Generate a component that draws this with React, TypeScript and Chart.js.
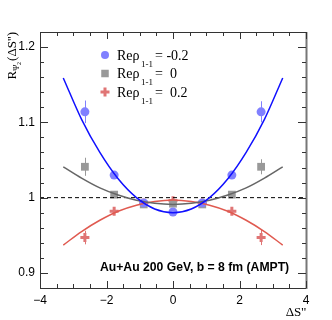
import React, { useEffect, useRef } from 'react';
import { Chart, registerables } from 'chart.js';

Chart.register(...registerables);

// ---- data ----
const xPositions = [-2.65, -1.77, -0.88, 0, 0.88, 1.77, 2.65];
const blueValues = [1.114, 1.030, 0.993, 0.981, 0.993, 1.030, 1.114];
const blueErrors = [0.015, 0.004, 0.003, 0.003, 0.003, 0.004, 0.014];
const grayValues = [1.041, 1.004, 0.991, 0.992, 0.991, 1.004, 1.041];
const grayErrors = [0.012, 0.004, 0.003, 0.003, 0.003, 0.004, 0.010];
const redValues = [0.947, 0.982, 0.993, 0.996, 0.993, 0.982, 0.947];
const redErrors = [0.009, 0.004, 0.003, 0.003, 0.003, 0.004, 0.010];

const fitX = [-3.3, -2.75, -2.2, -1.65, -1.1, -0.55, 0, 0.55, 1.1, 1.65, 2.2, 2.75, 3.3];
const blueFit = [1.159, 1.104, 1.060, 1.025, 1.000, 0.985, 0.980, 0.985, 1.000, 1.025, 1.060, 1.104, 1.159];
const grayFit = [1.041, 1.026, 1.013, 1.0035, 0.9966, 0.9924, 0.991, 0.9924, 0.9966, 1.0035, 1.013, 1.026, 1.041];
const redFit = [0.937, 0.955, 0.970, 0.982, 0.990, 0.995, 0.997, 0.995, 0.990, 0.982, 0.970, 0.955, 0.937];

const refLineX = [-4, 4];
const refLineY = [1, 1];

const xTickValues = [-4, -2, 0, 2, 4];
const yTickValues = [0.9, 1.0, 1.1, 1.2];
const legendValues = ['= -0.2', '=  0', '=  0.2'];
const annotationText = 'Au+Au 200 GeV, b = 8 fm (AMPT)';

// ---- styles ----
const blueColor = '#8080ff';
const blueLine = '#1010ff';
const grayColor = '#999999';
const grayLine = '#666666';
const redColor = '#e07575';
const redLine = '#e05a50';
const SERIF = '"Liberation Serif", "Times New Roman", serif';
const SANS = '"Liberation Sans", Arial, sans-serif';

const pts = (xs: number[], ys: number[]) => xs.map((x, i) => ({ x, y: ys[i] }));

function drawMarker(ctx: CanvasRenderingContext2D, kind: string, cx: number, cy: number) {
  ctx.save();
  if (kind === 'circle') {
    ctx.fillStyle = blueColor;
    ctx.beginPath();
    ctx.arc(cx, cy, 4, 0, Math.PI * 2);
    ctx.fill();
  } else if (kind === 'rect') {
    ctx.fillStyle = grayColor;
    ctx.fillRect(cx - 3.75, cy - 3.75, 7.5, 7.5);
  } else {
    ctx.strokeStyle = redColor;
    ctx.lineWidth = 3;
    ctx.beginPath();
    ctx.moveTo(cx - 4.5, cy);
    ctx.lineTo(cx + 4.5, cy);
    ctx.moveTo(cx, cy - 4.5);
    ctx.lineTo(cx, cy + 4.5);
    ctx.stroke();
  }
  ctx.restore();
}

const decorPlugin = {
  id: 'decor',
  beforeDatasetsDraw(chart: any) {
    const { ctx, scales } = chart;
    const xs = scales.x;
    const ys = scales.y;
    const sets: [number[], number[], string][] = [
      [blueValues, blueErrors, blueColor],
      [grayValues, grayErrors, grayColor],
      [redValues, redErrors, redColor],
    ];
    ctx.save();
    ctx.lineWidth = 1;
    sets.forEach(([vals, errs, col]) => {
      ctx.strokeStyle = col;
      vals.forEach((v, i) => {
        const px = Math.round(xs.getPixelForValue(xPositions[i])) + 0.5;
        ctx.beginPath();
        ctx.moveTo(px, ys.getPixelForValue(v + errs[i]));
        ctx.lineTo(px, ys.getPixelForValue(v - errs[i]));
        ctx.stroke();
      });
    });
    ctx.restore();
  },
  afterDraw(chart: any) {
    const { ctx, chartArea, scales } = chart;
    const xs = scales.x;
    const ys = scales.y;
    const { left, right, top, bottom } = chartArea;
    ctx.save();
    // frame
    ctx.strokeStyle = '#333';
    ctx.lineWidth = 1;
    ctx.beginPath();
    ctx.moveTo(left + 0.5, top + 0.5);
    ctx.lineTo(right, top + 0.5);
    ctx.moveTo(left + 0.5, top);
    ctx.lineTo(left + 0.5, bottom + 0.5);
    ctx.lineTo(right, bottom + 0.5);
    ctx.stroke();
    ctx.strokeStyle = '#777';
    ctx.lineWidth = 2;
    ctx.beginPath();
    ctx.moveTo(right + 0.5, top);
    ctx.lineTo(right + 0.5, bottom + 1);
    ctx.stroke();
    // ticks
    ctx.strokeStyle = '#333';
    ctx.lineWidth = 1;
    ctx.beginPath();
    for (let k = -8; k <= 8; k++) {
      const v = k * 0.5;
      const len = k % 4 === 0 ? 7 : 4;
      const px = Math.round(xs.getPixelForValue(v)) + 0.5;
      ctx.moveTo(px, bottom);
      ctx.lineTo(px, bottom - len);
      ctx.moveTo(px, top);
      ctx.lineTo(px, top + len);
    }
    for (let k = 44; k <= 61; k++) {
      const v = k * 0.02;
      const len = k % 5 === 0 ? 8 : 4;
      const py = Math.round(ys.getPixelForValue(v)) + 0.5;
      ctx.moveTo(left, py);
      ctx.lineTo(left + len, py);
      ctx.moveTo(right, py);
      ctx.lineTo(right - len, py);
    }
    ctx.stroke();

    // legend
    const kinds = ['circle', 'rect', 'cross'];
    const rowY = [55, 73.5, 92];
    kinds.forEach((kind, i) => {
      drawMarker(ctx, kind, 105, rowY[i]);
      const base = rowY[i] + 4.5;
      ctx.fillStyle = '#000';
      ctx.textAlign = 'left';
      ctx.textBaseline = 'alphabetic';
      ctx.font = '14px ' + SERIF;
      ctx.fillText('Re\u03c1', 117, base);
      const w = ctx.measureText('Re\u03c1').width;
      ctx.font = '9px ' + SERIF;
      ctx.fillText('1-1', 117 + w + 1.5, base + 7);
      ctx.font = '14px ' + SERIF;
      ctx.fillText(legendValues[i], 155, base);
    });

    // annotation
    ctx.font = 'bold 12.2px ' + SANS;
    ctx.fillStyle = '#000';
    ctx.fillText(annotationText, 100, 271);

    // x title
    ctx.font = '13px ' + SERIF;
    ctx.textAlign = 'right';
    ctx.fillText("\u0394S''", 306, 316);

    // y title (rotated)
    ctx.save();
    ctx.translate(15.5, 32);
    ctx.rotate(-Math.PI / 2);
    ctx.textAlign = 'left';
    const parts: [string, number, number][] = [
      ['R', 13, 0],
      ['\u03a8', 8, 3],
      ['2', 6, 5],
      ['', 13, 0],
      ["(\u0394S'')", 13, 0],
    ];
    let total = 0;
    parts.forEach(([t, s]) => {
      ctx.font = s + 'px ' + SERIF;
      total += ctx.measureText(t).width + (t === '' ? 1 : 0);
    });
    let xx = -total;
    parts.forEach(([t, s, dy]) => {
      ctx.font = s + 'px ' + SERIF;
      ctx.fillText(t, xx, dy);
      xx += ctx.measureText(t).width + (t === '' ? 1 : 0);
    });
    ctx.restore();

    ctx.restore();
  },
};

export default function App() {
  const ref = useRef<HTMLCanvasElement | null>(null);

  useEffect(() => {
    if (!ref.current) return;
    const chart = new Chart(ref.current, {
      type: 'scatter',
      data: {
        datasets: [
          {
            type: 'line',
            data: pts(fitX, blueFit),
            borderColor: blueLine,
            borderWidth: 1.5,
            pointRadius: 0,
            fill: false,
            cubicInterpolationMode: 'monotone',
            order: 1,
          } as any,
          {
            type: 'line',
            data: pts(fitX, grayFit),
            borderColor: grayLine,
            borderWidth: 1.5,
            pointRadius: 0,
            fill: false,
            cubicInterpolationMode: 'monotone',
            order: 1,
          } as any,
          {
            type: 'line',
            data: pts(fitX, redFit),
            borderColor: redLine,
            borderWidth: 1.5,
            pointRadius: 0,
            fill: false,
            cubicInterpolationMode: 'monotone',
            order: 1,
          } as any,
          {
            type: 'line',
            data: pts(refLineX, refLineY),
            borderColor: '#000',
            borderWidth: 1,
            borderDash: [4, 3],
            pointRadius: 0,
            fill: false,
            order: 2,
          } as any,
          {
            data: pts(xPositions, blueValues),
            pointStyle: 'circle',
            pointRadius: 4.5,
            backgroundColor: blueColor,
            borderColor: blueColor,
            borderWidth: 0,
            order: 3,
          },
          {
            data: pts(xPositions, grayValues),
            pointStyle: 'rect',
            pointRadius: 5.5,
            backgroundColor: grayColor,
            borderColor: grayColor,
            borderWidth: 0,
            order: 3,
          },
          {
            data: pts(xPositions, redValues),
            pointStyle: 'cross',
            pointRadius: 4.5,
            backgroundColor: redColor,
            borderColor: redColor,
            borderWidth: 3,
            order: 3,
          },
        ],
      },
      options: {
        animation: false,
        responsive: false,
        devicePixelRatio: 1,
        events: [],
        layout: { padding: { top: 32, right: 26, left: 0, bottom: 0 } },
        plugins: {
          legend: { display: false },
          tooltip: { enabled: false },
        },
        scales: {
          x: {
            type: 'linear',
            min: -4,
            max: 4,
            grid: { display: false, drawTicks: false },
            border: { display: false },
            afterBuildTicks: (s: any) => {
              s.ticks = xTickValues.map((v) => ({ value: v }));
            },
            afterFit: (s: any) => {
              s.height = 32;
            },
            ticks: {
              padding: 5,
              color: '#000',
              font: { family: SANS, size: 12 },
              maxRotation: 0,
              autoSkip: false,
              callback: (v: any) => (Number(v) < 0 ? '\u2212' + Math.abs(Number(v)) : String(v)),
            },
          },
          y: {
            type: 'linear',
            min: 0.88,
            max: 1.22,
            grid: { display: false, drawTicks: false },
            border: { display: false },
            afterBuildTicks: (s: any) => {
              s.ticks = yTickValues.map((v) => ({ value: v }));
            },
            afterFit: (s: any) => {
              s.width = 40;
            },
            ticks: {
              padding: 5,
              color: '#000',
              font: { family: SANS, size: 12 },
              autoSkip: false,
              callback: (v: any) => String(Number(Number(v).toFixed(2))),
            },
          },
        },
      },
      plugins: [decorPlugin],
    } as any);
    return () => chart.destroy();
  }, []);

  return (
    <div style={{ position: 'absolute', left: 0, top: 0, width: 332, height: 320, background: '#fff' }}>
      <canvas ref={ref} width={332} height={320} style={{ width: 332, height: 320, display: 'block' }} />
    </div>
  );
}
